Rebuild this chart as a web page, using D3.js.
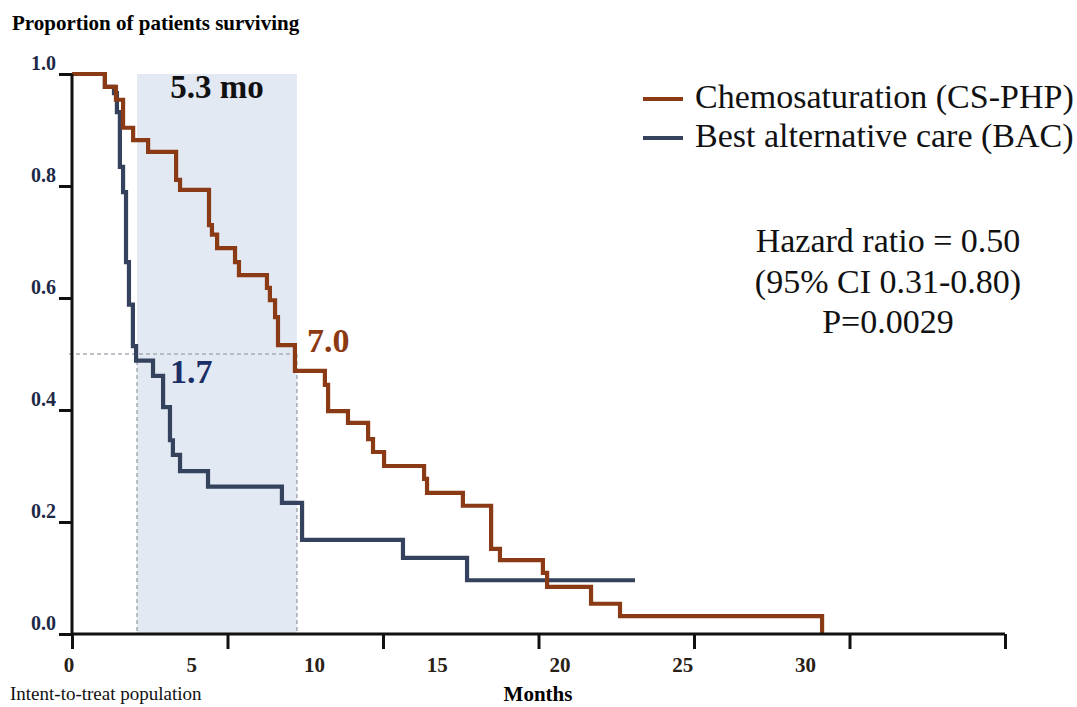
<!DOCTYPE html>
<html>
<head>
<meta charset="utf-8">
<script src="https://cdn.jsdelivr.net/npm/d3@7"></script>
<style>
  body { margin: 0; background: #fff; }
  svg text { font-family: "Liberation Serif", "Times New Roman", serif; }
</style>
</head>
<body>
<div id="chart"></div>
<script>
// survival curves, [months, proportion surviving] (step after)
var csTimes = [0, 1.34, 1.79, 2.08, 2.49, 3.10, 4.24, 4.40, 5.58, 5.70, 5.91, 6.64, 6.80, 7.94, 8.06, 8.27, 8.39,
  9.08, 10.30, 10.43, 11.24, 12.06, 12.26, 12.71, 14.34, 14.46, 15.92, 17.07, 17.43, 19.18, 19.35, 21.14, 22.32, 30.55];
var csSurv = [1.0, 0.977, 0.954, 0.904, 0.882, 0.861, 0.811, 0.793, 0.730, 0.713, 0.689, 0.664, 0.641, 0.618, 0.596, 0.566, 0.516,
  0.470, 0.445, 0.398, 0.377, 0.348, 0.325, 0.300, 0.277, 0.252, 0.229, 0.152, 0.132, 0.109, 0.084, 0.054, 0.032, 0.0];

var bacTimes = [0, 1.34, 1.71, 1.83, 1.95, 2.08, 2.20, 2.32, 2.48, 2.61, 3.30, 3.71, 3.99, 4.11, 4.40, 5.54, 8.55, 9.37, 13.48, 16.09, 22.93];
var bacSurv = [1.0, 0.977, 0.966, 0.932, 0.834, 0.789, 0.664, 0.588, 0.514, 0.488, 0.461, 0.405, 0.346, 0.320, 0.291, 0.263, 0.234, 0.168, 0.136, 0.096, 0.096];

var seriesNames = ['Chemosaturation (CS-PHP)', 'Best alternative care (BAC)'];
var seriesColors = ['#8b3a16', '#34425e'];

// medians as drawn, with their labels
var medianAt = [2.65, 9.16];
var medianLabels = ['1.7', '7.0'];
var diffLabel = '5.3 mo';

var yTicks = [0, 0.2, 0.4, 0.6, 0.8, 1.0];
var xLabelTicks = [0, 5, 10, 15, 20, 25, 30];
var statsLines = ['Hazard ratio = 0.50', '(95% CI 0.31-0.80)', 'P=0.0029'];

var W = 1077, H = 707;
var svg = d3.select('#chart').append('svg')
  .attr('width', W).attr('height', H);

var x = d3.scaleLinear().domain([0, 38]).range([72, 1005]);
var y = d3.scaleLinear().domain([0, 1]).range([634, 74]);

// shaded band between the medians
svg.append('rect')
  .attr('x', x(medianAt[0])).attr('y', y(1))
  .attr('width', x(medianAt[1]) - x(medianAt[0]))
  .attr('height', y(0) - y(1))
  .attr('fill', '#e3e9f3');

var dash = svg.append('g')
  .attr('stroke', '#a8adb6').attr('stroke-width', 1.6)
  .attr('stroke-dasharray', '4,3').attr('fill', 'none');
dash.append('line')
  .attr('x1', x(0) - 3).attr('x2', x(medianAt[1]))
  .attr('y1', y(0.5)).attr('y2', y(0.5));
medianAt.forEach(function(m) {
  dash.append('line')
    .attr('x1', x(m)).attr('x2', x(m))
    .attr('y1', y(0.5)).attr('y2', y(0));
});

var line = d3.line()
  .x(function(d) { return x(d[0]); })
  .y(function(d) { return y(d[1]); })
  .curve(d3.curveStepAfter);

var bacData = d3.zip(bacTimes, bacSurv);
var csData = d3.zip(csTimes, csSurv);

svg.append('path').datum(bacData)
  .attr('d', line).attr('fill', 'none')
  .attr('stroke', seriesColors[1]).attr('stroke-width', 4.2);
svg.append('path').datum(csData)
  .attr('d', line).attr('fill', 'none')
  .attr('stroke', seriesColors[0]).attr('stroke-width', 4.2);

// axes
var yAxis = svg.append('g')
  .attr('transform', 'translate(' + x(0) + ',0)')
  .call(d3.axisLeft(y).tickValues(yTicks).tickSize(13).tickFormat(''));
var xAxis = svg.append('g')
  .attr('transform', 'translate(0,' + y(0) + ')')
  .call(d3.axisBottom(x).tickValues(d3.range(0, 7).map(function(i) { return i * 38 / 6; }))
    .tickSize(15).tickSizeOuter(0).tickFormat(''));
[yAxis, xAxis].forEach(function(g) {
  g.selectAll('path, line').attr('stroke', '#111').attr('stroke-width', 3);
});
yAxis.select('.domain').attr('d', 'M0,' + y(1) + 'V' + y(0));
xAxis.select('.domain').attr('d', 'M' + x(0) + ',0H' + x(38));

// tick labels
svg.append('g').selectAll('text')
  .data(yTicks).enter().append('text')
  .attr('x', 56).attr('y', function(d) { return y(d) - 4; })
  .attr('text-anchor', 'end')
  .attr('font-size', 20).attr('font-weight', 'bold')
  .attr('fill', '#1d2946')
  .text(function(d) { return d.toFixed(1); });

svg.append('g').selectAll('text')
  .data(xLabelTicks).enter().append('text')
  .attr('x', function(d) { return x(d) - 3; }).attr('y', 672)
  .attr('text-anchor', 'middle')
  .attr('font-size', 21).attr('font-weight', 'bold')
  .attr('fill', '#2a2116')
  .text(function(d) { return d; });

// titles
svg.append('text').attr('x', 12).attr('y', 30)
  .attr('font-size', 21).attr('font-weight', 'bold')
  .text('Proportion of patients surviving');
svg.append('text').attr('x', 10).attr('y', 700)
  .attr('font-size', 19).attr('fill', '#111')
  .text('Intent-to-treat population');
svg.append('text').attr('x', 538).attr('y', 701)
  .attr('text-anchor', 'middle')
  .attr('font-size', 21).attr('font-weight', 'bold')
  .text('Months');

// annotations
svg.append('text')
  .attr('x', (x(medianAt[0]) + x(medianAt[1])) / 2).attr('y', 98)
  .attr('text-anchor', 'middle')
  .attr('font-size', 33).attr('font-weight', 'bold').attr('fill', '#111')
  .text(diffLabel);
svg.append('text').attr('x', 170).attr('y', 383)
  .attr('font-size', 34).attr('font-weight', 'bold').attr('fill', '#1b2f66')
  .text(medianLabels[0]);
svg.append('text').attr('x', 307).attr('y', 352)
  .attr('font-size', 34).attr('font-weight', 'bold').attr('fill', '#8b3a12')
  .text(medianLabels[1]);

// legend
var legend = svg.append('g');
seriesNames.forEach(function(name, i) {
  var ly = 99 + i * 39;
  legend.append('line')
    .attr('x1', 643).attr('x2', 683).attr('y1', ly).attr('y2', ly)
    .attr('stroke', seriesColors[i]).attr('stroke-width', 4);
  legend.append('text')
    .attr('x', 695).attr('y', ly + 9)
    .attr('font-size', 34).attr('fill', '#111')
    .text(name);
});

svg.append('g').selectAll('text')
  .data(statsLines).enter().append('text')
  .attr('x', 888).attr('y', function(d, i) { return 252 + i * 40.5; })
  .attr('text-anchor', 'middle')
  .attr('font-size', 34).attr('fill', '#111')
  .text(function(d) { return d; });
</script>
</body>
</html>
